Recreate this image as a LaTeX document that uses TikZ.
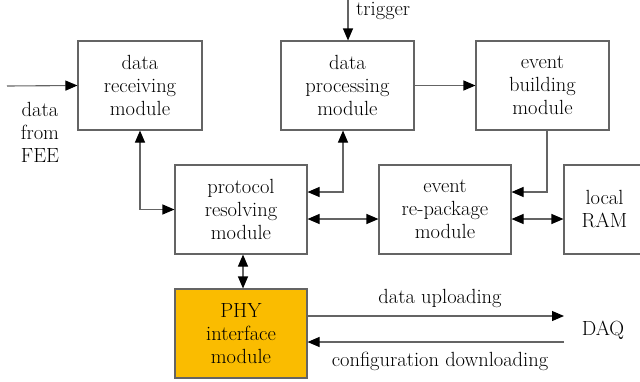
\documentclass[tikz,border=0pt]{standalone}
\usepackage{fontspec}
\usetikzlibrary{arrows.meta}

\definecolor{linegray}{RGB}{100,100,100}
\definecolor{phyfill}{RGB}{250,188,0}

\begin{document}
\begin{tikzpicture}[x=1pt, y=-1pt,
  every node/.style={font=\rmfamily\fontsize{20.5}{23}\selectfont, align=center, inner sep=0pt},
  module/.style={draw=linegray, line width=1.1pt, minimum height=89pt},
  arr/.style={-{Triangle[length=12pt,width=10pt,color=black]}, draw=linegray, line width=1.1pt},
  biarr/.style={{Triangle[length=12pt,width=10pt,color=black]}-{Triangle[length=12pt,width=10pt,color=black]}, draw=linegray, line width=1.1pt}]

\useasboundingbox (0, 0) rectangle (640, 381);

% Top row of modules
\node[module, minimum width=124pt] (recv) at (140, 85.5) {data\\receiving\\module};
\node[module, minimum width=133pt] (proc) at (347.5, 85.5) {data\\processing\\module};
\node[module, minimum width=133pt] (build) at (542.5, 85.5) {event\\building\\module};

% Middle row of modules
\node[module, minimum width=132pt] (proto) at (241, 209.5) {protocol\\resolving\\module};
\node[module, minimum width=132pt] (repack) at (445, 209.5) {event\\re-package\\module};
\node[module, minimum width=81pt, text width=81pt] (ram) at (604.5, 209.5) {local\\RAM};

% PHY module
\node[module, fill=phyfill, minimum width=132pt] (phy) at (241, 333.5) {PHY\\interface\\module};

% Inputs
\coordinate (fee) at (7, 86);
\node (feetxt) at (40, 132) {data\\from\\FEE};
\draw[arr] (fee) -- (recv.west);

\coordinate (trig) at (348, 0);
\node[anchor=west] (trigtxt) at (356, 11) {trigger};
\draw[arr] (trig) -- (trig |- proc.north);

% Links between modules
\draw[arr] (proc.east) -- (build.west);
\draw[biarr] (recv.south) |- (proto.west);
\draw[biarr] ([xshift=-4.5pt]proc.south) |- ([yshift=17.5pt]proto.east);
\draw[arr] ([xshift=4.5pt]build.south) |- ([yshift=17.5pt]repack.east);
\draw[biarr] ([yshift=-9.5pt]proto.east) -- ([yshift=-9.5pt]repack.west);
\draw[biarr] ([yshift=-9.5pt]repack.east) -- ([yshift=-9.5pt]ram.west);
\draw[biarr] ([xshift=2pt]proto.south) -- ([xshift=2pt]phy.north);

% DAQ side
\node (daq) at (603, 330) {DAQ};
\coordinate (upend) at (564, 316);
\coordinate (downstart) at (564, 342);
\draw[arr] ([yshift=17.5pt]phy.east) -- (upend);
\draw[arr] (downstart) -- ([yshift=-8.5pt]phy.east);
\node (uptxt) at (440, 298) {data uploading};
\node (downtxt) at (440, 361) {configuration downloading};

\end{tikzpicture}
\end{document}
